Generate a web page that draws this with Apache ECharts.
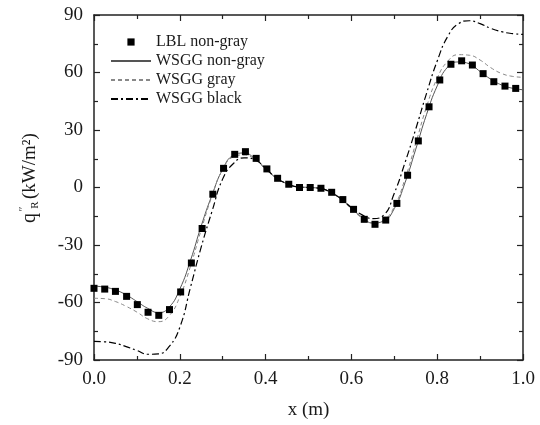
<!DOCTYPE html>
<html>
<head>
<meta charset="utf-8">
<script src="https://cdn.jsdelivr.net/npm/echarts@6/dist/echarts.min.js"></script>
<style>html,body{margin:0;padding:0;background:#fff}#c{width:540px;height:425px}</style>
</head>
<body>
<div id="c"></div>
<script>
// LBL non-gray (squares)
var lblX = [0, 0.025, 0.050, 0.076, 0.101, 0.126, 0.151, 0.176, 0.202, 0.227, 0.252, 0.277, 0.302, 0.328, 0.353, 0.378, 0.403, 0.428, 0.454, 0.479, 0.504, 0.529, 0.554, 0.580, 0.605, 0.630, 0.655, 0.680, 0.706, 0.731, 0.756, 0.781, 0.806, 0.832, 0.857, 0.882, 0.907, 0.932, 0.958, 0.983];
var lblY = [-52.6, -53.0, -54.2, -56.8, -61.1, -65.1, -66.7, -63.7, -54.5, -39.4, -21.4, -3.5, 10.0, 17.3, 18.7, 15.2, 9.7, 4.8, 1.7, 0, 0, -0.4, -2.5, -6.3, -11.4, -16.6, -19.2, -17.0, -8.3, 6.4, 24.3, 42.1, 56.1, 64.3, 66.1, 63.9, 59.4, 55.2, 52.9, 51.7];
// line x grid
var lineX = [0, 0.025, 0.05, 0.075, 0.1, 0.125, 0.15, 0.175, 0.2, 0.225, 0.25, 0.275, 0.3, 0.325, 0.35, 0.375, 0.4, 0.425, 0.45, 0.475, 0.5, 0.525, 0.55, 0.575, 0.6, 0.625, 0.65, 0.675, 0.7, 0.725, 0.75, 0.775, 0.8, 0.825, 0.85, 0.875, 0.9, 0.925, 0.95, 0.975, 1.0];
var wsggNonGray = [-51.5, -52, -53.5, -56, -59.5, -63, -65.3, -62.5, -53, -38, -20, -4, 9.5, 16.8, 18, 15, 10, 5, 2, 0.3, 0, -0.4, -2.2, -5.8, -10.8, -15.5, -18.5, -17.5, -11, 2.5, 20, 38, 53, 63, 65.5, 64.5, 60.5, 56.5, 53.5, 51.8, 51];
var wsggGray = [-57.8, -58, -59.5, -62, -65, -68.5, -70, -67, -57, -41, -22, -4.5, 9.5, 16, 17, 14.5, 9.5, 5, 2, 0.3, 0, -0.4, -2.3, -6, -11, -16, -18.5, -17, -10, 4.5, 23, 42, 57, 66, 69.3, 69, 66.5, 62.5, 59.5, 58, 57.5];
var wsggBlack = [-80.3, -80.5, -81.3, -83, -85, -87, -86.8, -83, -73, -52, -31, -12.5, 4.5, 12.5, 15.5, 14.5, 10, 5, 2, 0.3, 0, -0.4, -2.3, -5.8, -10.5, -14.3, -16.2, -14.5, -3, 13, 30.5, 49, 66, 79, 85.5, 87, 85.5, 83, 81.3, 80.3, 79.9];
var xTicks = {min: 0, max: 1, interval: 0.2};
var yTicks = {min: -90, max: 90, interval: 30};

function pairs(xs, ys) { return xs.map(function (x, i) { return [x, ys[i]]; }); }

var FONT = 'Liberation Serif';
var TXT = '#1a1a1a';
var axisCommon = {
  type: 'value',
  axisLine: {show: true, onZero: false, lineStyle: {color: '#222', width: 1.5}},
  axisTick: {show: true, inside: true, length: 6, lineStyle: {color: '#222', width: 1.2}},
  minorTick: {show: true, splitNumber: 2, length: 4, lineStyle: {color: '#222', width: 1.2}},
  splitLine: {show: false},
  minorSplitLine: {show: false}
};
function ax(extra) { return Object.assign({}, JSON.parse(JSON.stringify(axisCommon)), extra); }

var chart = echarts.init(document.getElementById('c'), null, {renderer: 'canvas'});
chart.setOption({
  animation: false,
  backgroundColor: '#fff',
  grid: {left: 94, right: 17, top: 15, bottom: 65, containLabel: false},
  legend: {
    left: 105, top: 29, orient: 'vertical',
    itemWidth: 40, itemHeight: 9, itemGap: 3,
    textStyle: {fontFamily: FONT, fontSize: 16, color: TXT},
    data: [
      {name: 'LBL non-gray'},
      {name: 'WSGG non-gray', itemStyle: {opacity: 0}},
      {name: 'WSGG gray', itemStyle: {opacity: 0}},
      {name: 'WSGG black', itemStyle: {opacity: 0}}
    ]
  },
  xAxis: [
    ax({position: 'bottom', min: xTicks.min, max: xTicks.max, interval: xTicks.interval,
      name: 'x (m)', nameLocation: 'middle', nameGap: 41,
      nameTextStyle: {fontFamily: FONT, fontSize: 19, color: TXT},
      axisLabel: {margin: 10, fontFamily: FONT, fontSize: 19, color: TXT,
        formatter: function (v) { return v.toFixed(1); }}}),
    ax({position: 'top', min: xTicks.min, max: xTicks.max, interval: xTicks.interval, axisLabel: {show: false}})
  ],
  yAxis: [
    ax({position: 'left', min: yTicks.min, max: yTicks.max, interval: yTicks.interval,
      axisLabel: {margin: 11, fontFamily: FONT, fontSize: 19, color: TXT}}),
    ax({position: 'right', min: yTicks.min, max: yTicks.max, interval: yTicks.interval, axisLabel: {show: false}})
  ],
  graphic: [
    {type: 'text', x: 30, y: 218, rotation: Math.PI / 2, style: {text: 'q', font: '20px "Liberation Serif"', fill: TXT, align: 'center', verticalAlign: 'middle'}},
    {type: 'text', x: 24, y: 209, rotation: Math.PI / 2, style: {text: '\u2033', font: '12px "Liberation Serif"', fill: TXT, align: 'center', verticalAlign: 'middle'}},
    {type: 'text', x: 35, y: 205, rotation: Math.PI / 2, style: {text: 'R', font: '11px "Liberation Serif"', fill: TXT, align: 'center', verticalAlign: 'middle'}},
    {type: 'text', x: 30, y: 199, rotation: Math.PI / 2, style: {text: '(kW/m\u00B2)', font: '19px "Liberation Serif"', fill: TXT, align: 'left', verticalAlign: 'middle'}}
  ],
  series: [
    {name: 'LBL non-gray', type: 'line', data: pairs(lblX, lblY), symbol: 'rect', symbolSize: 7, showSymbol: true,
      itemStyle: {color: '#000'}, lineStyle: {opacity: 0, width: 1}, z: 5},
    {name: 'WSGG non-gray', type: 'line', data: pairs(lineX, wsggNonGray), smooth: true, symbol: 'none',
      itemStyle: {color: '#555'}, lineStyle: {color: '#555', width: 1}},
    {name: 'WSGG gray', type: 'line', data: pairs(lineX, wsggGray), smooth: true, symbol: 'none',
      itemStyle: {color: '#888'}, lineStyle: {color: '#888', width: 1, type: [4, 3]}},
    {name: 'WSGG black', type: 'line', data: pairs(lineX, wsggBlack), smooth: true, symbol: 'none',
      itemStyle: {color: '#000'}, lineStyle: {color: '#000', width: 1.2, type: [7, 3, 2, 3]}}
  ]
});
</script>
</body>
</html>
